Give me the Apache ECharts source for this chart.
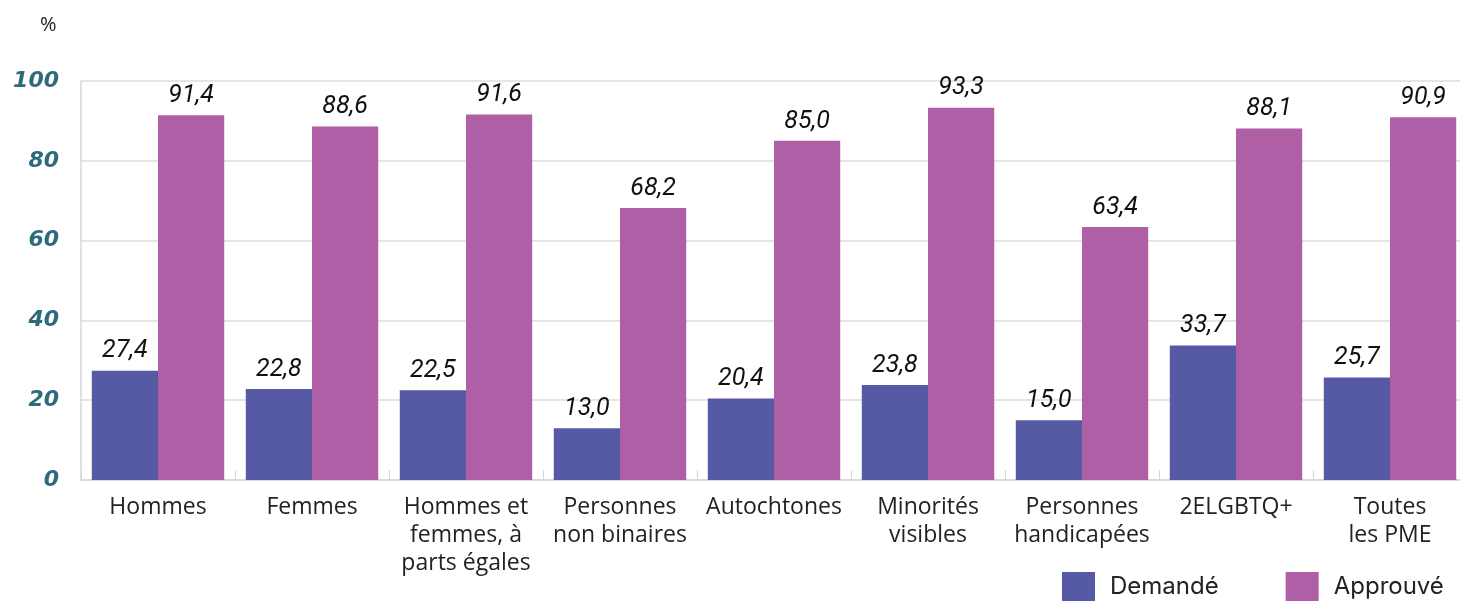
<!DOCTYPE html>
<html><head><meta charset="utf-8">
<script src="https://cdn.jsdelivr.net/npm/echarts@6/dist/echarts.min.js"></script>
<style>html,body{margin:0;padding:0;background:#fff}#c{width:1460px;height:601px}</style>
</head><body><div id="c"></div>
<script>
const categories = ['Hommes','Femmes','Hommes et\nfemmes, à\nparts égales','Personnes\nnon binaires','Autochtones','Minorités\nvisibles','Personnes\nhandicapées','2ELGBTQ+','Toutes\nles PME'];
const demande = [27.4,22.8,22.5,13.0,20.4,23.8,15.0,33.7,25.7];
const approuve = [91.4,88.6,91.6,68.2,85.0,93.3,63.4,88.1,90.9];
const yTicks = [0,20,40,60,80,100];
const seriesNames = ['Demandé','Approuvé'];

const chart = echarts.init(document.getElementById('c'));
const lbl = {
  show:true, position:'top', distance:7,
  fontFamily:'Roboto', fontStyle:'italic', fontSize:25, color:'#111',
  formatter: p => p.value.toFixed(1).replace('.', ',')
};
chart.setOption({
  animation:false,
  graphic:[{type:'text', left:40, top:15, style:{text:'%', fontSize:20, fontFamily:'Open Sans', fill:'#222'}}],
  legend:{
    left:1062, bottom:0, padding:0, itemWidth:33, itemHeight:29, itemGap:67,
    icon:'rect',
    textStyle:{fontFamily:'Inter', fontSize:24, color:'#222', padding:[0,0,0,10]},
    data:seriesNames
  },
  grid:{left:81, width:1386, top:81, bottom:121, containLabel:false, outerBoundsMode:'none'},
  xAxis:{
    type:'category', data:categories,
    axisLine:{show:true, lineStyle:{color:'#d6d6d6', width:1.5}},
    axisTick:{show:true, inside:true, length:10, lineStyle:{color:'#d6d6d6'}},
    axisLabel:{fontFamily:'Open Sans', fontSize:23, color:'#222', lineHeight:28, margin:13, interval:0}
  },
  yAxis:{
    type:'value', min:0, max:100, interval:20,
    axisLine:{show:true, lineStyle:{color:'#d6d6d6', width:1.5}},
    axisTick:{show:false},
    splitLine:{lineStyle:{color:'#dcdcdc', width:1.5}},
    axisLabel:{fontFamily:'DejaVu Sans', fontStyle:'italic', fontWeight:'bold', fontSize:22, color:'#2d6a7a', margin:22,
      formatter: v => yTicks.includes(v) ? String(v) : ''}
  },
  series:[
    {name:seriesNames[0], type:'bar', data:demande, barGap:'0%', barCategoryGap:'14%', itemStyle:{color:'#5659a3'}, label:lbl},
    {name:seriesNames[1], type:'bar', data:approuve, barGap:'0%', barCategoryGap:'14%', itemStyle:{color:'#ae5fa6'}, label:lbl}
  ]
});
</script></body></html>
